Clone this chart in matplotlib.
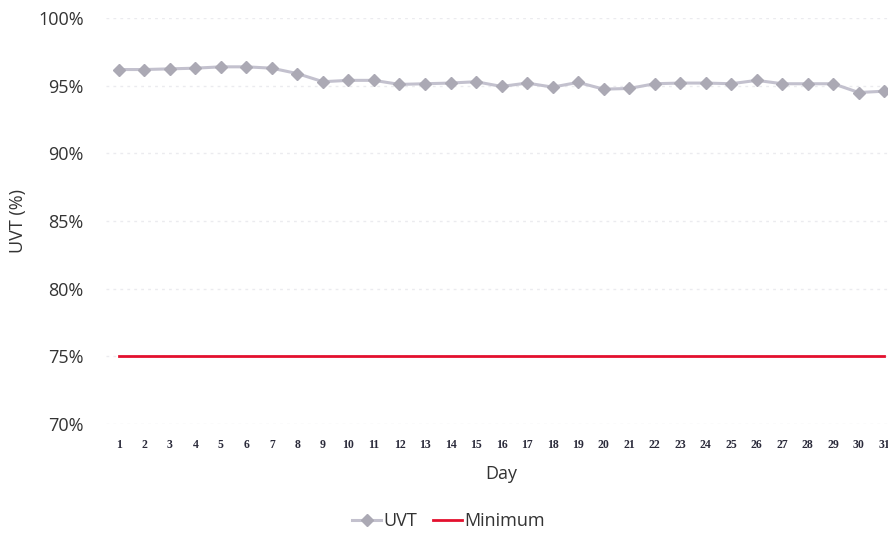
import matplotlib
matplotlib.use("Agg")
import matplotlib.pyplot as plt
from matplotlib.ticker import FuncFormatter

# Daily UV transmittance readings and the regulatory minimum
days = list(range(1, 32))
uvt = [96.2, 96.2, 96.25, 96.3, 96.4, 96.4, 96.3, 95.9, 95.3, 95.4,
       95.4, 95.1, 95.15, 95.2, 95.3, 94.95, 95.2, 94.9, 95.25, 94.75,
       94.8, 95.15, 95.2, 95.2, 95.15, 95.4, 95.15, 95.15, 95.15, 94.5,
       94.6]
minimum = [75.0] * len(days)
y_ticks = [70, 75, 80, 85, 90, 95, 100]

fig = plt.figure(figsize=(8.88, 5.33), dpi=100)
ax = fig.add_axes([0.1194, 0.2045, 0.8908, 0.7615])

ax.plot(days, uvt, color="#c3c1ce", lw=2.2, marker="D", ms=6.5,
        markerfacecolor="#aba9b4", markeredgecolor="#aba9b4", label="UVT", zorder=3)
ax.plot(days, minimum, color="#e3102e", lw=2.0, label="Minimum", zorder=3)

ax.set_xlim(0.5, 31.5)
ax.set_ylim(70, 100)
ax.set_yticks(y_ticks)
ax.yaxis.set_major_formatter(FuncFormatter(lambda v, p: f"{v:.0f}%"))
ax.set_xticks(days)
ax.set_xticklabels([str(d) for d in days], family="Liberation Serif",
                   fontsize=8.5, fontweight="bold", color="#2a2a3a")
for lab in ax.get_yticklabels():
    lab.set_family("Open Sans")
    lab.set_fontsize(13)
    lab.set_color("#333333")

ax.tick_params(axis="both", length=0)
ax.tick_params(axis="y", pad=16)
ax.tick_params(axis="x", pad=11)
for s in ax.spines.values():
    s.set_visible(False)
ax.grid(axis="y", color="#ebebef", lw=1, ls=(0, (2, 3)), zorder=0)

ax.set_xlabel("Day", family="Open Sans", fontsize=13, color="#333333", labelpad=10)
ax.set_ylabel("UVT (%)", family="Open Sans", fontsize=13, color="#333333", labelpad=8)

leg = fig.legend(loc="center", bbox_to_anchor=(0.505, 0.022), ncol=2, frameon=False,
                 prop={"family": "Open Sans", "size": 13}, handlelength=1.6,
                 handletextpad=0.1, columnspacing=0.9)
for t in leg.get_texts():
    t.set_color("#333333")

fig.savefig("out.png", dpi=100)
